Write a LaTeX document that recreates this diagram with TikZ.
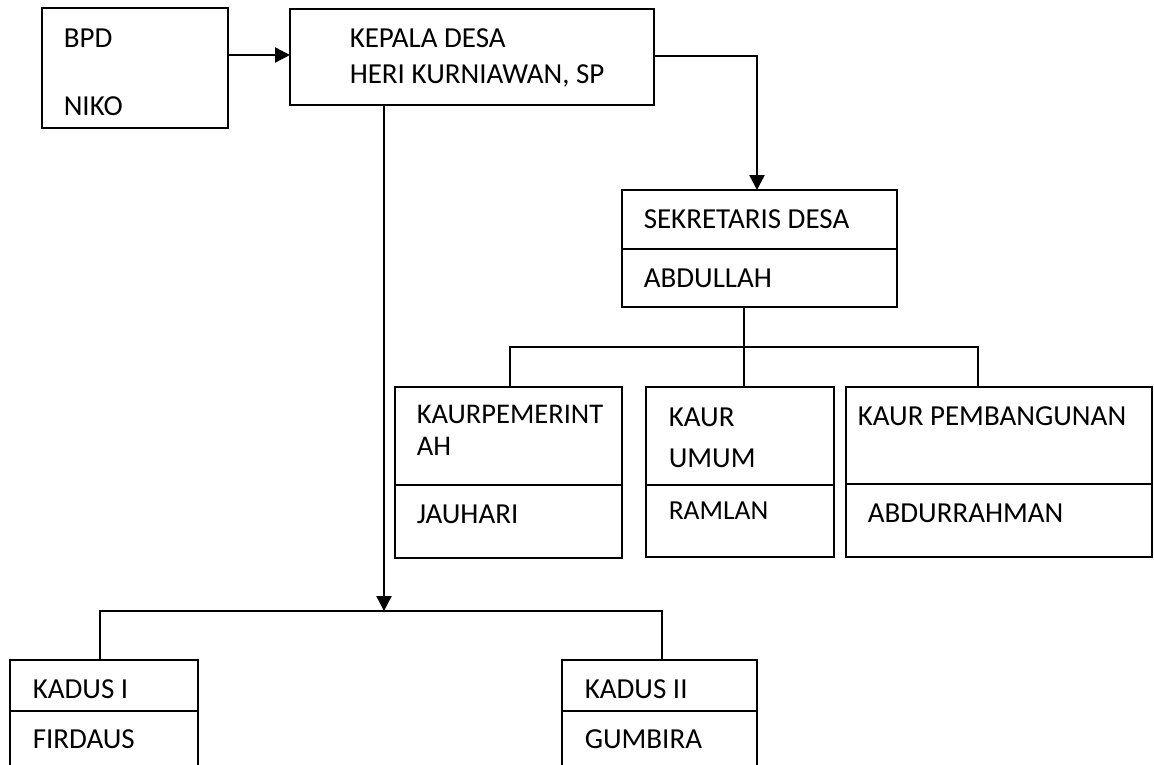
\documentclass[tikz,border=0pt]{standalone}
\usepackage{fontspec}
\setmainfont{Carlito}
\usetikzlibrary{arrows.meta}

\tikzset{every picture/.style={line width=1.5pt}}
\tikzset{
  box/.style={draw, rectangle, anchor=north west, inner sep=0pt, outer sep=0pt},
  label/.style={anchor=base west, inner sep=0pt, font=\fontsize{29}{34}\selectfont},
  arrowline/.style={line width=2.4pt, -{Triangle[length=15pt,width=15pt]}},
  treeline/.style={line width=1.4pt}
}

\begin{document}
\begin{tikzpicture}[x=1pt,y=1pt,yscale=-1,xscale=1]
        \clip (0,0) rectangle (1154,764);

        %Shape: Rectangle [id:bpd]
        \node [box, minimum width=186pt, minimum height=120pt] (bpd) at (42,8) {};
        %Shape: Rectangle [id:kades]
        \node [box, minimum width=364pt, minimum height=96pt] (kades) at (290,9) {};
        %Shape: Rectangle [id:sekdes]
        \node [box, minimum width=275pt, minimum height=117pt] (sekdes) at (622,190) {};
        \draw (sekdes.west |- 0,249) -- (sekdes.east |- 0,249) ;
        %Shape: Rectangle [id:kaurpem]
        \node [box, minimum width=227pt, minimum height=171pt] (kaurpem) at (395,387) {};
        \draw (kaurpem.west |- 0,485) -- (kaurpem.east |- 0,485) ;
        %Shape: Rectangle [id:kaurumum]
        \node [box, minimum width=188pt, minimum height=170pt] (kaurumum) at (646,387) {};
        \draw (kaurumum.west |- 0,485) -- (kaurumum.east |- 0,485) ;
        %Shape: Rectangle [id:kaurbang]
        \node [box, minimum width=306pt, minimum height=170pt] (kaurbang) at (846,387) {};
        \draw (kaurbang.west |- 0,484) -- (kaurbang.east |- 0,484) ;
        %Shape: Rectangle [id:kadus1]
        \node [box, minimum width=188pt, minimum height=120pt] (kadus1) at (10,660) {};
        \draw (kadus1.west |- 0,711) -- (kadus1.east |- 0,711) ;
        %Shape: Rectangle [id:kadus2]
        \node [box, minimum width=195pt, minimum height=120pt] (kadus2) at (562,660) {};
        \draw (kadus2.west |- 0,711) -- (kadus2.east |- 0,711) ;

        \coordinate (kadusbus) at (384,611);
        \coordinate (kaurL) at (510,347);
        \coordinate (kaurM) at (744,347);
        \coordinate (kaurR) at (978,347);

        %Straight Lines [id:arrows]
        \draw [arrowline] (bpd.east |- 0,55) -- (kades.west |- 0,55) ;
        \draw [arrowline] (kades.east |- 0,56) -| (sekdes.north -| 757,0) ;
        \draw [arrowline] (kades.south -| kadusbus) -- (kadusbus) ;
        %Straight Lines [id:tree]
        \draw [treeline] (kadus1.north -| 100,0) |- (kadusbus) -| (kadus2.north -| 662,0) ;
        \draw [treeline] (sekdes.south -| kaurM) -- (kaurumum.north -| kaurM) ;
        \draw [treeline] (kaurpem.north -| kaurL) |- (kaurM) -| (kaurbang.north -| kaurR) ;

        % Text Node
        \node [label] (tbpd) at (63,47) {BPD};
        \node [label] (tniko) at (63,115) {NIKO};
        % Text Node
        \node [label] (tkades) at (349,47) {KEPALA DESA};
        \node [label] (theri) at (349,83) {HERI KURNIAWAN, SP};
        % Text Node
        \node [label] (tsekdes) at (643,228) {SEKRETARIS DESA};
        \node [label] (tabdullah) at (643,287) {ABDULLAH};
        % Text Node
        \node [label, font=\fontsize{28.5}{34}\selectfont] (tkaurpem) at (416,423) {KAURPEMERINT};
        \node [label, font=\fontsize{28.5}{34}\selectfont] (tkaurpemb) at (416,455) {AH};
        \node [label] (tjauhari) at (416,523) {JAUHARI};
        % Text Node
        \node [label] (tkaur) at (668,426) {KAUR};
        \node [label] (tumum) at (668,467) {UMUM};
        \node [label, font=\fontsize{27.5}{34}\selectfont] (tramlan) at (668,519) {RAMLAN};
        % Text Node
        \node [label] (tkaurbang) at (857,425) {KAUR PEMBANGUNAN};
        \node [label] (tabdurrahman) at (867,522) {ABDURRAHMAN};
        % Text Node
        \node [label] (tkadus1) at (32,698) {KADUS I};
        \node [label] (tfirdaus) at (32,748) {FIRDAUS};
        % Text Node
        \node [label] (tkadus2) at (584,698) {KADUS II};
        \node [label] (tgumbira) at (584,748) {GUMBIRA};

\end{tikzpicture}
\end{document}
